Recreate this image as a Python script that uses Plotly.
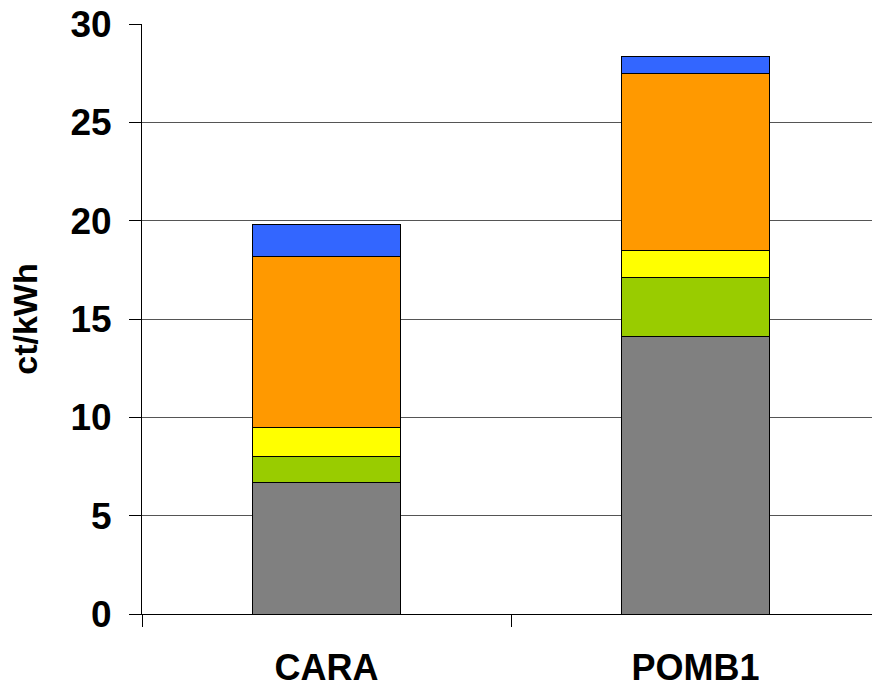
import plotly.graph_objects as go

# Cost components per plant, stacked bottom to top (ct/kWh)
plants = ["CARA", "POMB1"]
component_names = ["Component 1", "Component 2", "Component 3", "Component 4", "Component 5"]
component_values = [
    [6.7, 14.1],   # gray
    [1.3, 3.0],    # green
    [1.5, 1.4],    # yellow
    [8.67, 9.0],   # orange
    [1.63, 0.86],  # blue
]
component_colors = ["#808080", "#99CC00", "#FFFF00", "#FF9900", "#3366FF"]
y_ticks = [0, 5, 10, 15, 20, 25, 30]

FONT = "Liberation Sans, Arial, sans-serif"

fig = go.Figure()
for name, vals, col in zip(component_names, component_values, component_colors):
    fig.add_trace(go.Bar(
        x=plants, y=vals, name=name,
        marker=dict(color=col, line=dict(color="#000000", width=1)),
        showlegend=False,
    ))

fig.update_layout(
    barmode="stack",
    bargap=0.6,
    width=872, height=688,
    margin=dict(l=142, r=0, t=24, b=74),
    plot_bgcolor="white", paper_bgcolor="white",
    font=dict(family=FONT, color="black"),
)
fig.update_xaxes(
    range=[-0.5, 1.478],
    showline=True, linecolor="black", linewidth=1,
    ticks="outside", tickson="boundaries", ticklen=12, tickcolor="black",
    tickfont=dict(family=FONT, size=36, weight="bold"),
    ticklabelstandoff=22,
    showgrid=False,
)
fig.update_yaxes(
    range=[0, 30], tickvals=y_ticks,
    showline=True, linecolor="black", linewidth=1,
    ticks="outside", ticklen=12, tickcolor="black",
    tickfont=dict(family=FONT, size=37, weight="bold"),
    ticklabelstandoff=10,
    showgrid=True, gridcolor="#555555", gridwidth=1,
    zeroline=False,
    title=dict(text="ct/kWh", font=dict(family=FONT, size=34, weight="bold"), standoff=22),
)

fig.write_html("out.html")
